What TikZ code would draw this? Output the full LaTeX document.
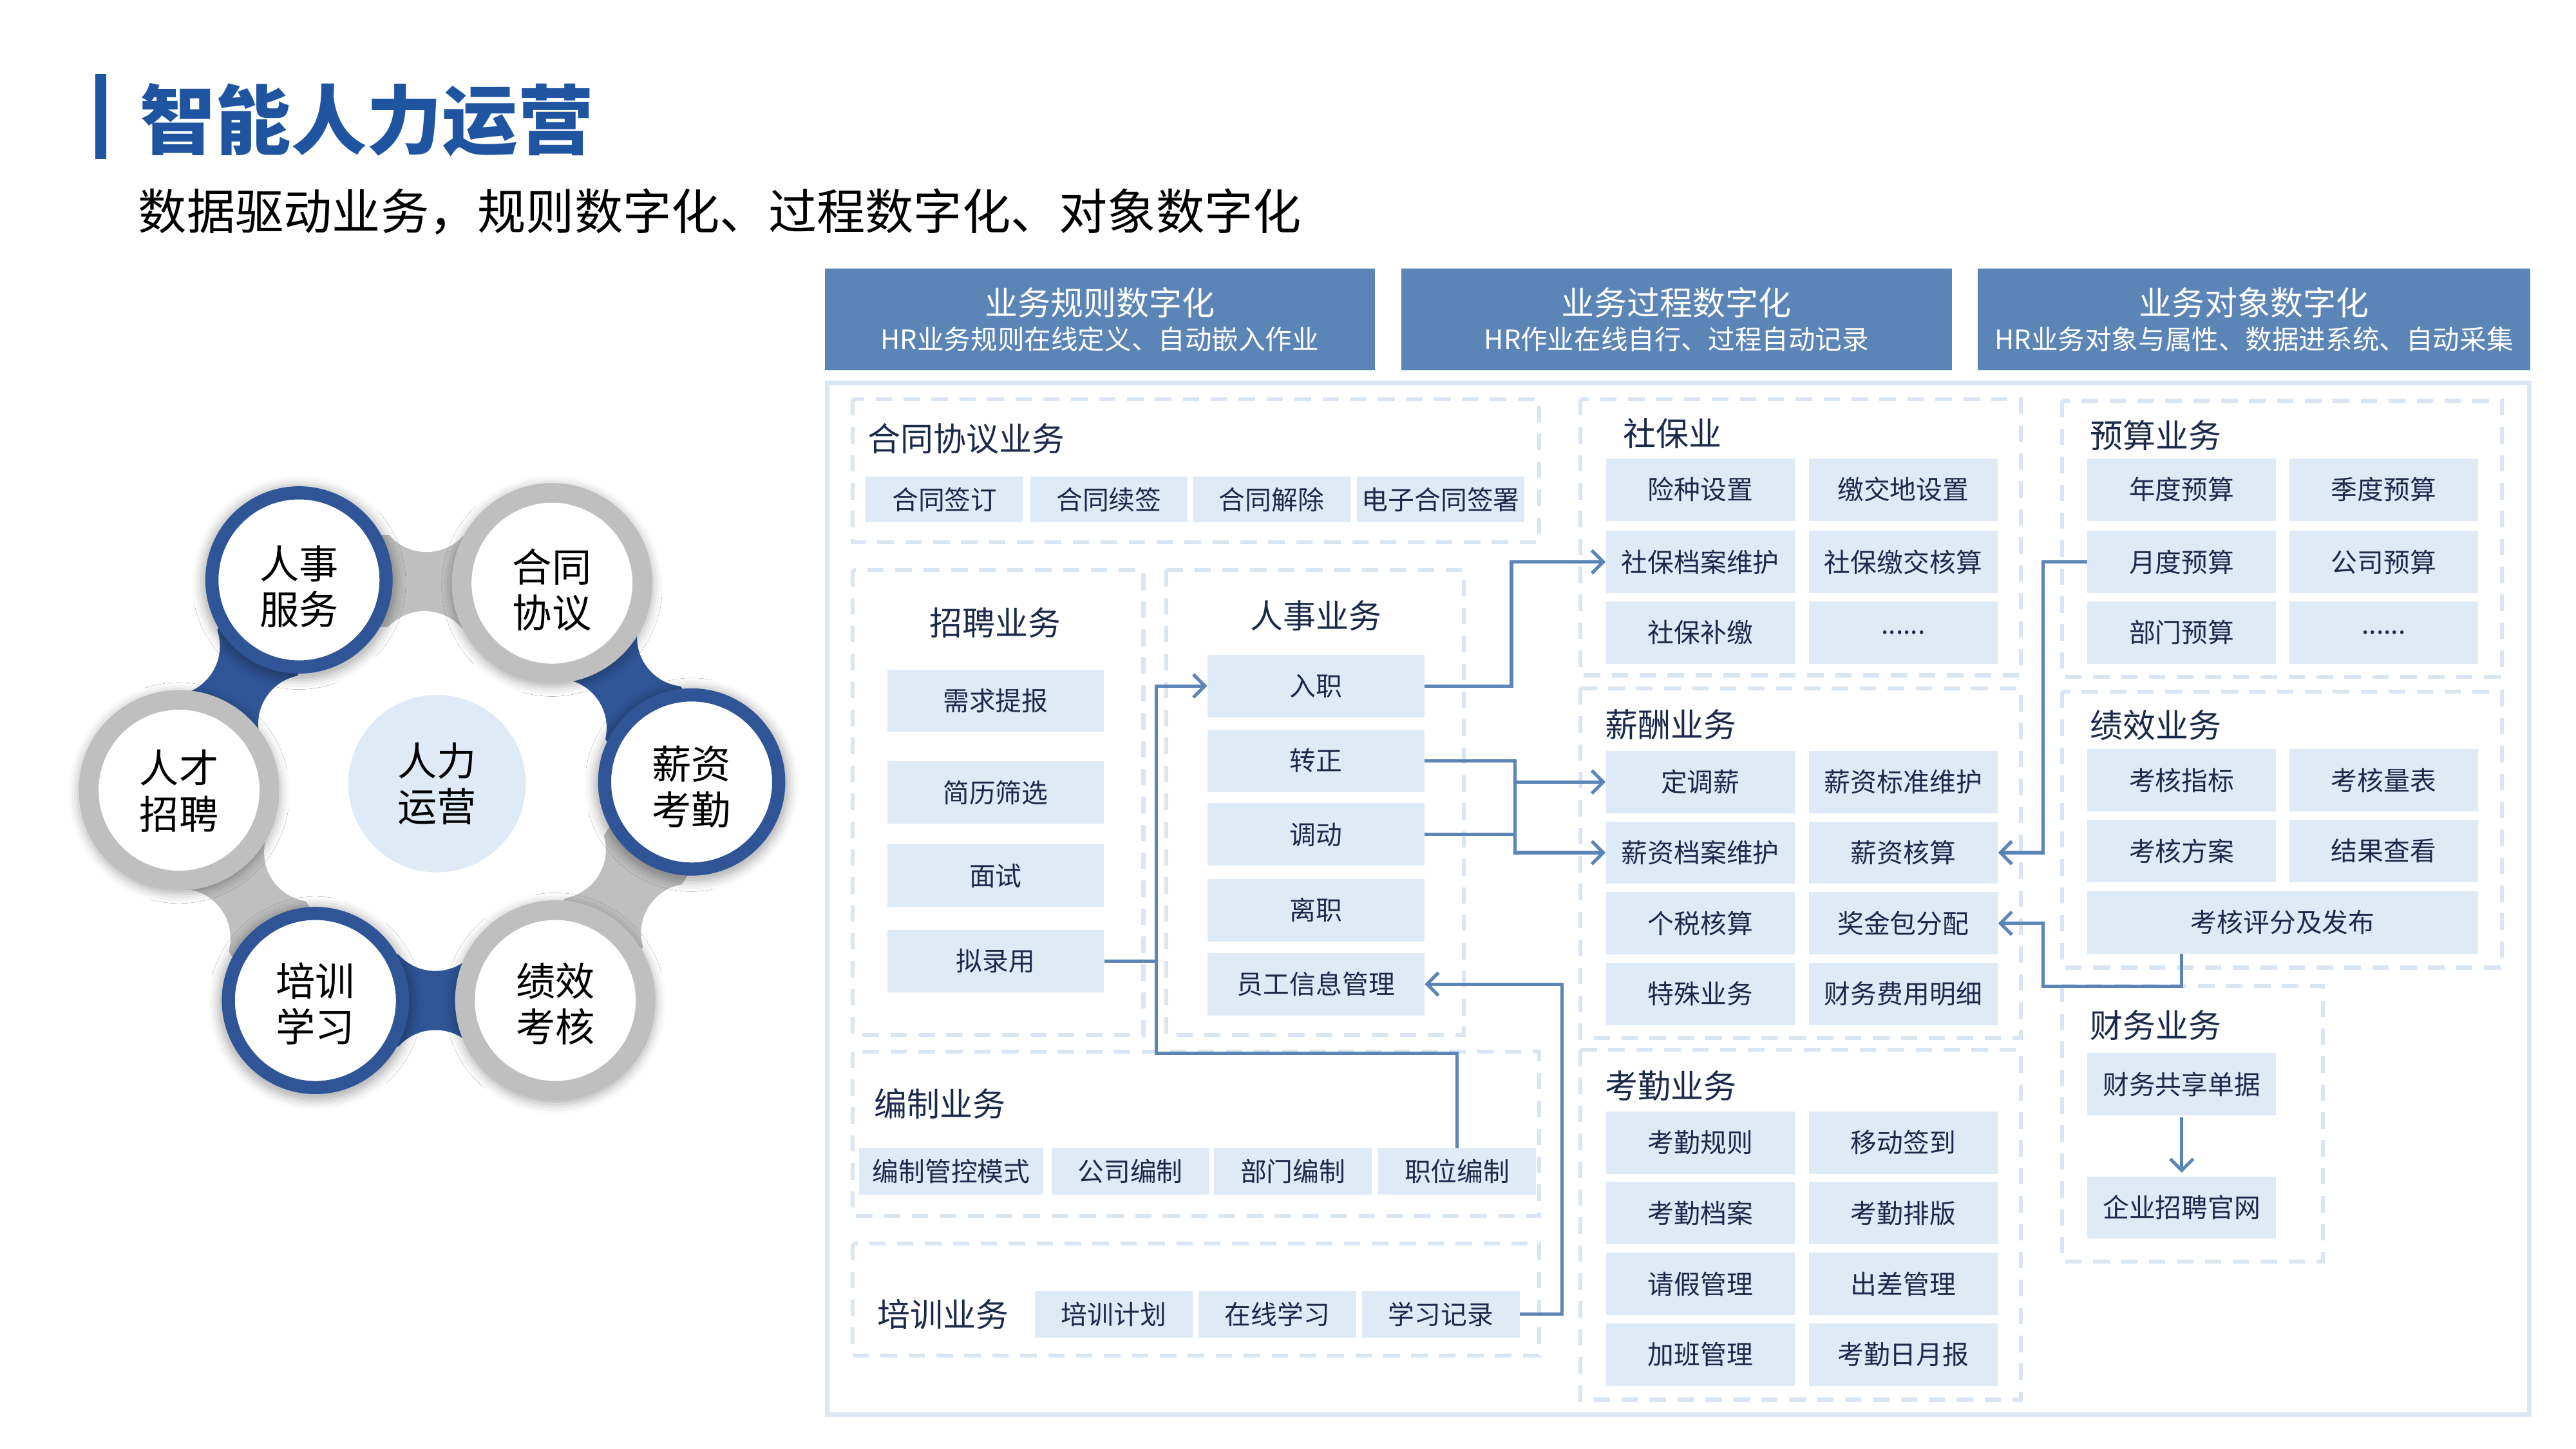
\documentclass[tikz,border=0pt]{standalone}
\usepackage{fontspec}
\setmainfont{Noto Sans CJK SC}
\usetikzlibrary{arrows.meta,calc,backgrounds,shadows.blur}

\definecolor{titleblue}{HTML}{1F55A0}
\definecolor{hdrblue}{HTML}{5B85B6}
\definecolor{ringblue}{HTML}{2F5597}
\definecolor{ringgray}{HTML}{BFBFBF}
\definecolor{hubfill}{HTML}{DEEBF7}
\definecolor{cellfill}{HTML}{DEEAF6}
\definecolor{dashblue}{HTML}{DAE5F3}
\definecolor{outerline}{HTML}{DCE7F4}
\definecolor{navy}{HTML}{1B2A4A}

\tikzset{
  cell/.style={fill=cellfill,text=navy,inner sep=0pt,minimum height=38pt,minimum width=115pt,font=\fontsize{16}{16}\selectfont},
  slim/.style={cell,minimum height=28pt,minimum width=96pt},
  group/.style={draw=dashblue,line width=2.4pt,dash pattern=on 10pt off 7pt},
  grouptitle/.style={text=navy,inner sep=0pt,anchor=west,font=\fontsize{20}{20}\selectfont},
  hdr/.style={fill=hdrblue,text=white,inner sep=0pt,minimum width=335pt,minimum height=62pt,align=center,font=\fontsize{16.3}{21}\selectfont},
  link/.style={draw=hdrblue,line width=2pt},
  ringtext/.style={inner sep=0pt,align=center,font=\fontsize{24}{28}\selectfont},
  ring/.style={circle,fill=white,inner sep=0pt,blur shadow={shadow xshift=0pt,shadow yshift=-1.5pt,shadow scale=1.12,shadow blur radius=5pt,shadow opacity=30}},
  bluering/.style={ring,draw=ringblue,line width=8pt,minimum size=106pt},
  grayring/.style={ring,draw=ringgray,line width=12pt,minimum size=110pt}
}

\begin{document}
\begin{tikzpicture}[x=1pt,y=-1pt,>={Straight Barb[length=7pt,width=14pt]}]
  \useasboundingbox (0,0) rectangle (1568,882);

  % title
  \fill[titleblue] (58,45) rectangle (64.5,97);
  \node[anchor=west,inner sep=0pt,text=titleblue,font=\fontsize{46}{46}\selectfont\bfseries] (title) at (85,73) {智能人力运营};
  \node[anchor=west,inner sep=0pt,font=\fontsize{29.5}{30}\selectfont] (subtitle) at (84,129) {数据驱动业务，规则数字化、过程数字化、对象数字化};

  % wheel
  \node[bluering,label={[ringtext,yshift=-4pt]center:{人事\\服务}}] (rsfw) at (182,353) {};
  \node[grayring,label={[ringtext,yshift=-4pt]center:{合同\\协议}}] (htxy) at (336,355) {};
  \node[grayring,label={[ringtext,yshift=-0.5pt]center:{人才\\招聘}}] (rczp) at (109,481) {};
  \node[bluering,label={[ringtext,yshift=-3pt]center:{薪资\\考勤}}] (xzkq) at (421,476) {};
  \node[bluering,label={[ringtext,yshift=-2pt]center:{培训\\学习}}] (pxxx) at (192,609) {};
  \node[grayring,label={[ringtext,yshift=-2pt]center:{绩效\\考核}}] (jxkh) at (338,609) {};
  \node[ringtext,circle,fill=hubfill,minimum size=108pt] (rlyy) at (266,477) {人力\\运营};

  \begin{scope}[on background layer]
    \foreach \a/\b/\c in {rsfw/htxy/ringgray,htxy/xzkq/ringblue,xzkq/jxkh/ringgray,jxkh/pxxx/ringblue,pxxx/rczp/ringgray,rczp/rsfw/ringblue}
      \draw[\c,line width=56pt] (\a.center) -- (\b.center);
    \foreach \a/\b in {rsfw/htxy,htxy/xzkq,xzkq/jxkh,jxkh/pxxx,pxxx/rczp,rczp/rsfw}{
      \fill[white] ($(\a.center)!.5!(\b.center)!48pt!90:(\b.center)$) circle (30pt);
      \fill[white] ($(\a.center)!.5!(\b.center)!48pt!-90:(\b.center)$) circle (30pt);
    }
  \end{scope}

  % headers
  \node[hdr] (rule) at (669.5,194.5) {{\fontsize{20}{21}\selectfont 业务规则数字化}\\HR业务规则在线定义、自动嵌入作业};
  \node[hdr] (proc) at (1020.5,194.5) {{\fontsize{20}{21}\selectfont 业务过程数字化}\\HR作业在线自行、过程自动记录};
  \node[hdr,minimum width=336pt] (obj) at (1372,194.5) {{\fontsize{20}{21}\selectfont 业务对象数字化}\\HR业务对象与属性、数据进系统、自动采集};

  \draw[outerline,line width=2.5pt] (503.5,233) rectangle (1539.5,861);

  % groups
  \draw[group] (519,243) rectangle (937,330);
  \draw[group] (519,347) rectangle (696,630);
  \draw[group] (710,347) rectangle (891,630);
  \draw[group] (519,640) rectangle (937,740);
  \draw[group] (519,757) rectangle (937,825);
  \draw[group] (962,243) rectangle (1230,411);
  \draw[group] (962,419) rectangle (1230,632);
  \draw[group] (962,639) rectangle (1230,852);
  \draw[group] (1255,244) rectangle (1523,412);
  \draw[group] (1255,421) rectangle (1523,589);
  \draw[group] (1255,600) rectangle (1414,768);

  % contract
  \node[grouptitle] (htt) at (528,267) {合同协议业务};
  \node[slim] (htqd) at (575,304) {合同签订};
  \node[slim] (htxq) at (675,304) {合同续签};
  \node[slim] (htjc) at (774,304) {合同解除};
  \node[slim,minimum width=102pt] (dzqs) at (877,304) {电子合同签署};

  % recruiting
  \node[grouptitle,anchor=center] (zpt) at (606,379) {招聘业务};
  \node[cell,minimum width=132pt] (xqtb) at (606,426.5) {需求提报};
  \node[cell,minimum width=132pt] (jlsx) at (606,482.5) {简历筛选};
  \node[cell,minimum width=132pt] (ms) at (606,533) {面试};
  \node[cell,minimum width=132pt] (nly) at (606,585) {拟录用};

  % personnel
  \node[grouptitle,anchor=center] (rst) at (801,375) {人事业务};
  \node[cell,minimum width=132pt] (rz) at (801,417.5) {入职};
  \node[cell,minimum width=132pt] (zz) at (801,463) {转正};
  \node[cell,minimum width=132pt] (dd) at (801,508) {调动};
  \node[cell,minimum width=132pt] (lz) at (801,554) {离职};
  \node[cell,minimum width=132pt] (ygxx) at (801,599) {员工信息管理};

  % staffing
  \node[grouptitle] (bzt) at (532,672) {编制业务};
  \node[slim,minimum width=112pt] (bzgk) at (579,713) {编制管控模式};
  \node[slim] (gsbz) at (688,713) {公司编制};
  \node[slim] (bmbz) at (787,713) {部门编制};
  \node[slim] (zwbz) at (887,713) {职位编制};

  % training
  \node[grouptitle] (pxt) at (534,800) {培训业务};
  \node[slim] (pxjh) at (678,800) {培训计划};
  \node[slim] (zxxx) at (777.5,800) {在线学习};
  \node[slim] (xxjl) at (877,800) {学习记录};

  % social insurance
  \node[grouptitle] (sbt) at (988,264) {社保业};
  \node[cell] (xzsz) at (1035,298) {险种设置};
  \node[cell] (jjdsz) at (1158.5,298) {缴交地设置};
  \node[cell] (sbda) at (1035,342) {社保档案维护};
  \node[cell] (sbjj) at (1158.5,342) {社保缴交核算};
  \node[cell] (sbbj) at (1035,385) {社保补缴};
  \node[cell] (sbmore) at (1158.5,385) {......};

  % pay
  \node[grouptitle] (xct) at (977,441) {薪酬业务};
  \node[cell] (dtx) at (1035,476) {定调薪};
  \node[cell] (xzbz) at (1158.5,476) {薪资标准维护};
  \node[cell] (xzda) at (1035,519) {薪资档案维护};
  \node[cell] (xzhs) at (1158.5,519) {薪资核算};
  \node[cell] (gshs) at (1035,562) {个税核算};
  \node[cell] (jjb) at (1158.5,562) {奖金包分配};
  \node[cell] (tsyw) at (1035,605) {特殊业务};
  \node[cell] (cwfy) at (1158.5,605) {财务费用明细};

  % attendance
  \node[grouptitle] (kqt) at (977,661) {考勤业务};
  \node[cell] (kqgz) at (1035,695.5) {考勤规则};
  \node[cell] (ydqd) at (1158.5,695.5) {移动签到};
  \node[cell] (kqda) at (1035,738.5) {考勤档案};
  \node[cell] (kqpb) at (1158.5,738.5) {考勤排版};
  \node[cell] (qjgl) at (1035,781.5) {请假管理};
  \node[cell] (ccgl) at (1158.5,781.5) {出差管理};
  \node[cell] (jbgl) at (1035,824.5) {加班管理};
  \node[cell] (kqrb) at (1158.5,824.5) {考勤日月报};

  % budget
  \node[grouptitle] (yst) at (1272,265) {预算业务};
  \node[cell] (ndys) at (1328,298) {年度预算};
  \node[cell] (jdys) at (1451,298) {季度预算};
  \node[cell] (ydys) at (1328,342) {月度预算};
  \node[cell] (gsys) at (1451,342) {公司预算};
  \node[cell] (bmys) at (1328,385) {部门预算};
  \node[cell] (ysmore) at (1451,385) {......};

  % performance
  \node[grouptitle] (jxt) at (1272,441.5) {绩效业务};
  \node[cell] (khzb) at (1328,475) {考核指标};
  \node[cell] (khlb) at (1451,475) {考核量表};
  \node[cell] (khfa) at (1328,518) {考核方案};
  \node[cell] (jgck) at (1451,518) {结果查看};
  \node[cell,minimum width=238pt] (khpf) at (1389.5,561.5) {考核评分及发布};

  % finance
  \node[grouptitle] (cwt) at (1272,624) {财务业务};
  \node[cell] (cwgx) at (1328,660) {财务共享单据};
  \node[cell] (qyzp) at (1328,735) {企业招聘官网};

  % connectors
  \coordinate (jn) at (704,641);
  \coordinate (k1) at (920,417.5);
  \coordinate (k2) at (922,463);
  \coordinate (k3) at (1243.5,342);
  \coordinate (k4) at (1243.5,600.5);
  \coordinate (k5) at (950.8,800);

  \draw[link,->] (zwbz.north) |- (jn) |- (rz.west);
  \draw[link] (nly.east) -| (jn);
  \draw[link,->] (rz.east) -- (k1) |- (sbda.west);
  \draw[link,->] (zz.east) -- (k2) |- (dtx.west);
  \draw[link,->] (k2) |- (xzda.west);
  \draw[link] (dd.east) -- (dd.east -| k2);
  \draw[link,->] (ydys.west) -- (k3) |- (xzhs.east);
  \draw[link,->] (khpf.south -| khzb) |- (k4) |- (jjb.east);
  \draw[link,->] (xxjl.east) -- (k5) |- (ygxx.east);
  \draw[link,->,shorten <=1pt,shorten >=2pt] (cwgx) -- (qyzp);
\end{tikzpicture}
\end{document}
